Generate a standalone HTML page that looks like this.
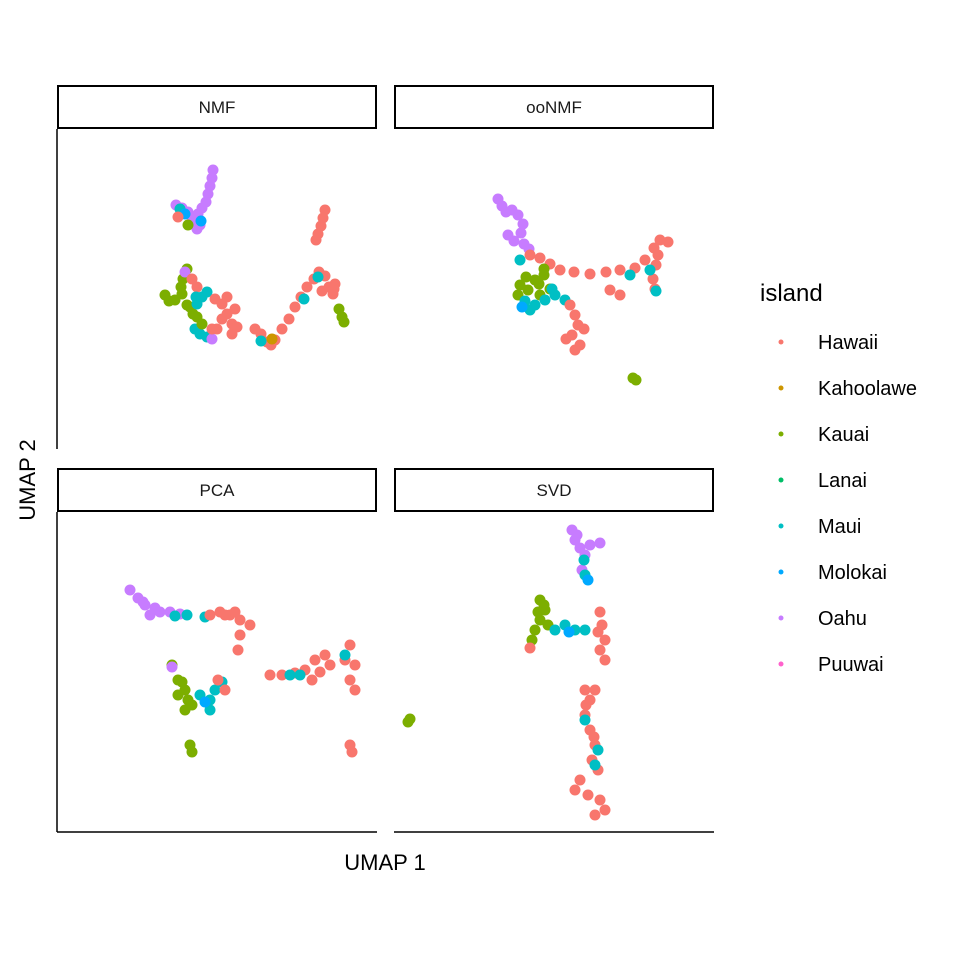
<!DOCTYPE html>
<html><head><meta charset="utf-8"><style>
body{margin:0;background:#fff}
svg{display:block;font-family:"Liberation Sans",Arial,sans-serif}
</style></head><body>
<svg id="chart" width="960" height="960" viewBox="0 0 960 960">
<rect width="960" height="960" fill="#fff"/>
<g id="panels"></g>
<text x="385" y="870" font-size="22" text-anchor="middle" fill="#000">UMAP 1</text>
<text x="0" y="0" font-size="22" text-anchor="middle" fill="#000" transform="translate(35,480) rotate(-90)">UMAP 2</text>
<g id="legend"></g>
</svg>
<script>
const islands=["Hawaii","Kahoolawe","Kauai","Lanai","Maui","Molokai","Oahu","Puuwai"];
const colors=["#F8766D","#CD9600","#7CAE00","#00BE67","#00BFC4","#00A9FF","#C77CFF","#FF61CC"];
const facetNames=["NMF","ooNMF","PCA","SVD"];
// points: [umap1, umap2(screen-down units), islandIndex] ; panel-relative 0..320
const nmfPoints=[[156,41,6],[155,49,6],[153,57,6],[151,65,6],[149,73,6],[145,79,6],[141,85,6],[138,91,6],[143,96,6],[140,100,6],[125,79,6],[131,83,6],[119,76,6],[135,88,6],[123,80,4],[128,85,5],[121,88,0],[131,96,2],[144,92,5],
[268,81,0],[266,89,0],[264,97,0],[261,105,0],[259,111,0],
[108,166,2],[112,172,2],[118,171,2],[125,165,2],[126,150,2],[124,158,2],[130,140,2],[133,178,2],[136,185,2],[130,176,2],[140,188,2],[128,143,6],[135,150,0],[140,158,0],[139,168,4],[145,168,4],[150,163,4],[140,175,4],[143,205,4],[150,208,4],[138,200,4],[145,195,2],[155,210,6],
[158,170,0],[165,175,0],[170,185,0],[175,195,0],[175,205,0],[165,190,0],[170,168,0],[160,200,0],[155,200,0],[180,198,0],[178,180,0],
[198,200,0],[204,205,0],[210,213,0],[214,216,0],[218,211,0],[225,200,0],[232,190,0],[238,178,0],[244,168,0],[250,158,0],[257,150,0],[262,143,0],[268,147,0],[272,158,0],[276,165,0],[278,155,0],[265,162,0],[261,148,4],[247,170,4],[215,210,1],[204,212,4],[277,160,0],
[282,180,2],[285,188,2],[287,193,2]];
const oonmfPoints=[[104,70,6],[108,77,6],[112,83,6],[118,81,6],[124,86,6],[129,95,6],[127,104,6],[120,112,6],[130,115,6],[135,120,6],[114,106,6],
[136,126,0],[146,129,0],[156,135,0],[166,141,0],[180,143,0],[196,145,0],[212,143,0],[226,141,0],[241,139,0],[251,131,0],[260,119,0],[266,111,0],[274,113,0],[262,136,0],[259,150,0],[261,160,0],[226,166,0],[216,161,0],[264,126,0],[236,146,4],[256,141,4],[262,162,4],[126,131,4],
[126,156,2],[134,161,2],[141,151,2],[150,146,2],[146,166,2],[156,160,2],[124,166,2],[132,148,2],[145,155,2],[150,140,2],
[131,172,4],[141,176,4],[151,171,4],[161,166,4],[171,171,4],[136,181,4],[128,178,5],[158,160,4],
[176,176,0],[181,186,0],[184,196,0],[178,206,0],[186,216,0],[181,221,0],[172,210,0],[190,200,0],
[239,249,2],[242,251,2]];
const pcaPoints=[[73,78,6],[81,86,6],[88,93,6],[93,103,6],[103,100,6],[113,100,6],[123,102,6],[98,96,6],[86,90,6],[118,104,4],[130,103,4],[148,105,4],
[153,103,0],[163,100,0],[173,103,0],[183,108,0],[193,113,0],[183,123,0],[181,138,0],[168,103,0],[178,100,0],
[213,163,0],[225,163,0],[238,161,0],[248,158,0],[258,148,0],[268,143,0],[273,153,0],[288,148,0],[293,133,0],[298,153,0],[293,168,0],[298,178,0],[255,168,0],[263,160,0],[233,163,4],[243,163,4],[288,143,4],
[115,153,2],[121,168,2],[128,178,2],[131,188,2],[128,198,2],[135,193,2],[121,183,2],[125,170,2],[115,155,6],
[143,183,4],[153,188,4],[158,178,4],[165,170,4],[153,198,4],[148,190,5],
[161,168,0],[168,178,0],
[133,233,2],[135,240,2],[293,233,0],[295,240,0]];
const svdPoints=[[178,18,6],[181,28,6],[186,36,6],[196,33,6],[206,31,6],[191,43,6],[188,58,6],[183,23,6],[191,63,4],[194,68,5],[190,48,4],
[146,88,2],[151,98,2],[146,108,2],[141,118,2],[154,113,2],[138,128,2],[150,93,2],[144,100,2],
[161,118,4],[171,113,4],[181,118,4],[191,118,4],[175,120,5],
[206,100,0],[208,113,0],[211,128,0],[206,138,0],[211,148,0],[136,136,0],[204,120,0],
[191,178,0],[201,178,0],[196,188,0],[191,203,0],[196,218,0],[201,233,0],[198,248,0],[204,258,0],[186,268,0],[181,278,0],[194,283,0],[206,288,0],[211,298,0],[201,303,0],[192,193,0],[200,225,0],
[191,208,4],[204,238,4],[201,253,4],
[14,210,2],[16,207,2]];
const pointsByFacet=[nmfPoints,oonmfPoints,pcaPoints,svdPoints];
const panelBox=[[57,129],[394,129],[57,512],[394,512]];
const NS="http://www.w3.org/2000/svg";
const g=document.getElementById("panels");
function mk(t,a,p){const e=document.createElementNS(NS,t);for(const k in a)e.setAttribute(k,a[k]);p.appendChild(e);return e;}
pointsByFacet.forEach((pts,i)=>{
  const [L,T]=panelBox[i];
  const xs=d=>L+d, ys=d=>T+d;
  const strip=mk("rect",{x:L+1,y:T-43,width:318,height:42,fill:"#fff",stroke:"#000","stroke-width":2},g);
  
  
  const tx=mk("text",{x:L+160,y:T-16,"font-size":17,"text-anchor":"middle",fill:"#1a1a1a"},g);
  tx.textContent=facetNames[i];
  
  
  if(i%2===0){const ax=mk("line",{x1:L,y1:T,x2:L,y2:T+320,stroke:"#000","stroke-width":1.5},g);
    
    }
  if(i>=2){const ax=mk("line",{x1:L,y1:T+320,x2:L+320,y2:T+320,stroke:"#000","stroke-width":1.5},g);
    
    }
  pts.forEach(p=>{
    const c=mk("circle",{cx:xs(p[0]),cy:ys(p[1]),r:5.5,fill:colors[p[2]]},g);
    
    
  });
});
const lg=document.getElementById("legend");
const lt=mk("text",{x:760,y:301,"font-size":24,fill:"#000"},lg);
lt.textContent="island";


islands.forEach((n,i)=>{
  const y=342+46*i;
  const c=mk("circle",{cx:781,cy:y,r:2.5,fill:colors[i]},lg);
  
  
  const t=mk("text",{x:818,y:y+7,"font-size":20,fill:"#000"},lg);
  t.textContent=n;
  
  
});
</script>
</body></html>
